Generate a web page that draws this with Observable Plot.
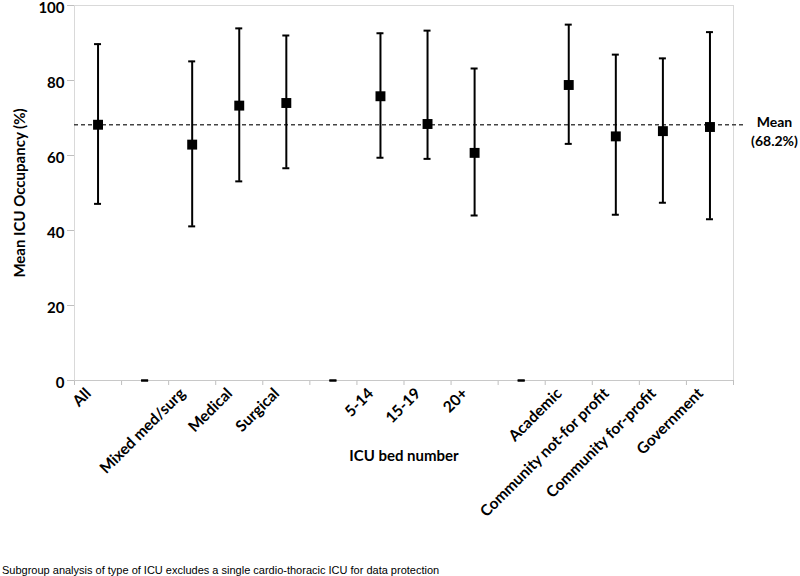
<!DOCTYPE html>
<html>
<head>
<meta charset="utf-8">
<script src="https://cdn.jsdelivr.net/npm/d3@7"></script>
<script src="https://cdn.jsdelivr.net/npm/@observablehq/plot@0.6"></script>
<style>
  html, body { margin: 0; padding: 0; background: #fff; }
  #chart svg { display: block; }
  #caption { font-family: "Liberation Sans", Arial, sans-serif; font-size: 11px; line-height: 14px; color: #000; padding-left: 2px; padding-top: 3px; }
</style>
</head>
<body>
<div id="chart"></div>
<div id="caption">Subgroup analysis of type of ICU excludes a single cardio-thoracic ICU for data protection</div>
<script>
// Categories ("" = spacer column between groups)
const categories = ["All", "", "Mixed med/surg", "Medical", "Surgical", "", "5-14", "15-19", "20+", "", "Academic", "Community not-for profit", "Community for-profit", "Government"];
const means = [68.2, 0, 62.9, 73.3, 74.0, 0, 75.8, 68.4, 60.7, 0, 78.8, 65.1, 66.5, 67.6];
const lower = [47.1, 0, 41.1, 53.1, 56.6, 0, 59.4, 59.1, 44.0, 0, 63.1, 44.2, 47.4, 43.0];
const upper = [89.7, 0, 85.1, 93.9, 92.0, 0, 92.6, 93.3, 83.2, 0, 94.9, 86.9, 85.9, 92.9];
const overallMean = 68.2;
const yTicks = [0, 20, 40, 60, 80, 100];
const xTitle = "ICU bed number";
const yTitle = "Mean ICU Occupancy (%)";

const rows = categories.map((label, i) => ({i, label, mean: means[i], lo: lower[i], hi: upper[i]}));
const real = rows.filter(d => d.label !== "");
const cx = d => d.i + 0.5;

const chart = Plot.plot({
  width: 800,
  height: 560,
  marginTop: 5,
  marginBottom: 180,
  marginLeft: 74,
  marginRight: 67,
  style: {fontFamily: "Lato, 'Open Sans', sans-serif", color: "black", background: "white"},
  x: {domain: [0, categories.length], axis: null},
  y: {domain: [0, 100], axis: null},
  marks: [
    Plot.frame({stroke: "#d9d9d9"}),
    Plot.axisY({ticks: yTicks, tickSize: 7, tickFormat: () => "", stroke: "#bfbfbf", label: null}),
    Plot.axisY({ticks: yTicks, tickSize: 0, tickPadding: 10, fill: "black", fontSize: 15, fontWeight: "bold", label: null, dy: 2.5}),
    Plot.axisX({ticks: d3.range(categories.length + 1), tickFormat: () => "", tickSize: 5, stroke: "#bfbfbf", label: null}),
    Plot.ruleY([0], {stroke: "#c8c8c8"}),
    Plot.ruleY([overallMean], {stroke: "#444", strokeWidth: 1.3, strokeDasharray: "4,3", insetRight: -10}),
    Plot.ruleX(real, {x: cx, y1: "lo", y2: "hi", stroke: "black", strokeWidth: 2}),
    Plot.ruleY(rows, {y: "hi", x1: cx, x2: cx, insetLeft: -3.5, insetRight: -3.5, stroke: "black", strokeWidth: 2}),
    Plot.ruleY(rows, {y: "lo", x1: cx, x2: cx, insetLeft: -3.5, insetRight: -3.5, stroke: "black", strokeWidth: 2}),
    Plot.dot(real, {x: cx, y: "mean", symbol: "square", r: 5.6, fill: "black", stroke: "none"}),
    Plot.text(real, {x: cx, frameAnchor: "bottom", text: "label", rotate: -45, textAnchor: "end", dx: -6, dy: 14, fontSize: 15.5, fontWeight: "bold", fill: "black"}),
    Plot.text([xTitle], {frameAnchor: "bottom", dy: 80, fontSize: 15, fontWeight: "bold", fill: "black"}),
    Plot.text([yTitle], {frameAnchor: "left", rotate: -90, textAnchor: "middle", dx: -54, fontSize: 15, fontWeight: "bold", fill: "black"}),
    Plot.text([overallMean], {y: d => d, frameAnchor: "right", text: d => `Mean\n(${d}%)`, dx: 41, dy: 6, textAnchor: "middle", lineHeight: 1.3, fontSize: 14, fontWeight: "bold", fill: "black"})
  ]
});
document.getElementById("chart").appendChild(chart);
</script>
</body>
</html>
